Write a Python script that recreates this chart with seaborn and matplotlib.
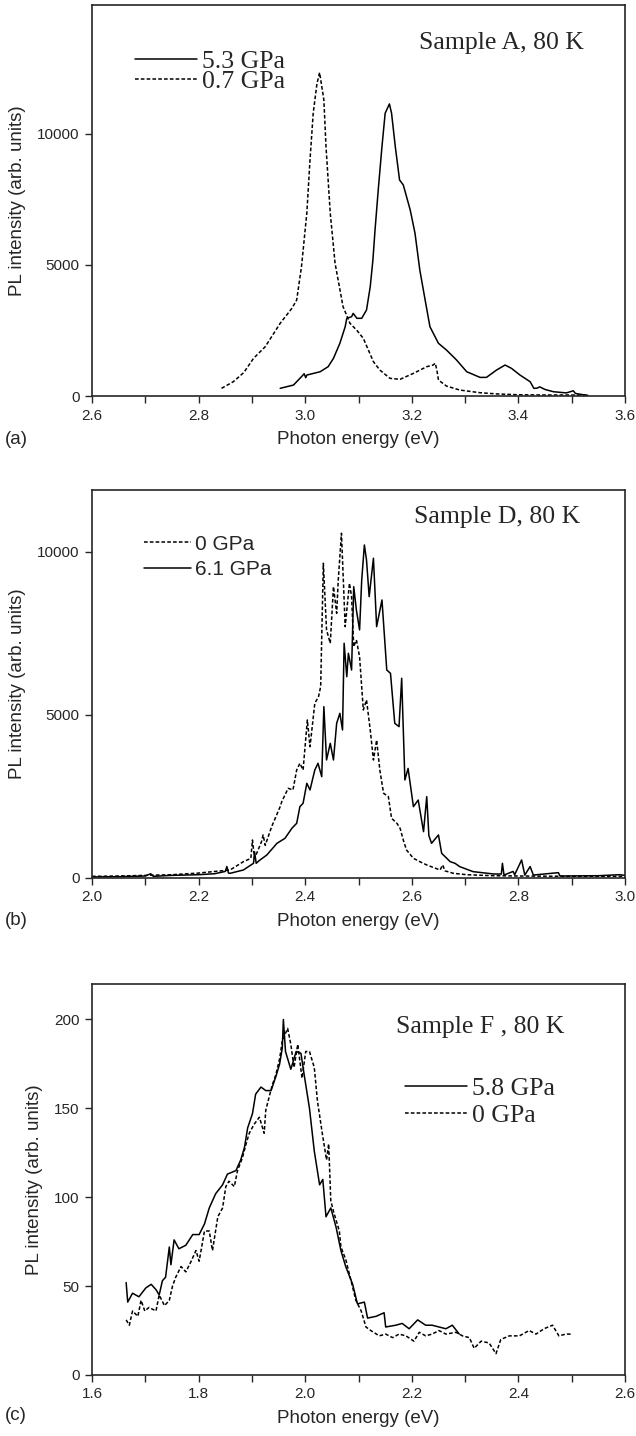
import numpy as np
import pandas as pd
import matplotlib
matplotlib.use("Agg")
import matplotlib.pyplot as plt
import matplotlib.ticker as mticker
import seaborn as sns

# ---- data ----
# (a) sample A
a_53_x = [2.953, 2.978, 2.993, 2.998, 3.001, 3.003, 3.028, 3.043, 3.053, 3.065, 3.075, 3.078, 3.087, 3.090,
          3.097, 3.106, 3.115, 3.122, 3.127, 3.131, 3.137, 3.144, 3.150, 3.158, 3.162, 3.169, 3.177, 3.184,
          3.197, 3.206, 3.215, 3.225, 3.234, 3.250, 3.265, 3.284, 3.303, 3.328, 3.340, 3.359, 3.375, 3.387,
          3.403, 3.422, 3.429, 3.435, 3.440, 3.450, 3.466, 3.490, 3.503, 3.507, 3.525, 3.530]
a_53_y = [294, 419, 737, 850, 700, 800, 927, 1118, 1437, 2009, 2642, 2962, 3023, 3150,
          2962, 2962, 3279, 4167, 5185, 6329, 7854, 9505, 10778, 11132, 10778, 9505, 8235, 8044,
          7091, 6203, 4804, 3660, 2642, 2009, 1754, 1372, 927, 711, 711, 991, 1182, 1055,
          800, 546, 294, 300, 350, 250, 164, 120, 200, 100, 38, 30]
a_07_x = [2.843, 2.865, 2.885, 2.903, 2.925, 2.953, 2.975, 2.984, 2.993, 3.003, 3.009, 3.015, 3.022, 3.027,
          3.035, 3.039, 3.047, 3.056, 3.071, 3.084, 3.097, 3.109, 3.128, 3.140, 3.159, 3.178, 3.203, 3.228,
          3.240, 3.244, 3.247, 3.250, 3.265, 3.290, 3.328, 3.360, 3.400, 3.450, 3.500, 3.530]
a_07_y = [294, 545, 900, 1437, 1880, 2772, 3343, 3660, 4930, 6965, 9000, 10778, 11900, 12326,
          11285, 9505, 6965, 5059, 3405, 2772, 2500, 2200, 1308, 991, 675, 637, 865, 1118,
          1182, 1250, 991, 610, 381, 229, 127, 80, 50, 40, 40, 30]

# (b) sample D
b_0_x = [2.000, 2.050, 2.100, 2.150, 2.200, 2.230, 2.259, 2.284, 2.298, 2.301, 2.305, 2.318, 2.321, 2.325,
         2.337, 2.353, 2.356, 2.368, 2.377, 2.384, 2.390, 2.396, 2.404, 2.409, 2.418, 2.425, 2.429, 2.434,
         2.440, 2.447, 2.453, 2.459, 2.462, 2.468, 2.475, 2.483, 2.487, 2.491, 2.496, 2.502, 2.509, 2.515,
         2.522, 2.528, 2.534, 2.540, 2.547, 2.556, 2.562, 2.572, 2.578, 2.584, 2.590, 2.603, 2.615, 2.628,
         2.653, 2.658, 2.662, 2.678, 2.703, 2.750, 2.800, 2.900, 3.000]
b_0_y = [50, 60, 80, 100, 150, 200, 245, 500, 600, 1165, 600, 1113, 1319, 1000,
         1573, 2187, 2340, 2750, 2700, 3312, 3517, 3312, 4846, 4027, 5358, 5563, 5870, 9653,
         7607, 7198, 8935, 8117, 9140, 10572, 7708, 9038, 8628, 7094, 7300, 6787, 5152, 5460,
         4539, 3619, 4232, 3312, 2597, 2494, 1831, 1677, 1524, 1165, 859, 603, 500, 399,
         245, 400, 220, 143, 100, 70, 60, 50, 50]
b_61_x = [2.000, 2.050, 2.100, 2.110, 2.115, 2.150, 2.200, 2.230, 2.250, 2.253, 2.256, 2.259, 2.284, 2.303,
          2.305, 2.308, 2.315, 2.328, 2.347, 2.362, 2.375, 2.384, 2.390, 2.396, 2.403, 2.409, 2.418, 2.424,
          2.431, 2.435, 2.440, 2.447, 2.453, 2.459, 2.465, 2.470, 2.473, 2.478, 2.481, 2.487, 2.491, 2.496,
          2.502, 2.506, 2.511, 2.515, 2.520, 2.528, 2.534, 2.544, 2.553, 2.560, 2.568, 2.576, 2.581, 2.587,
          2.593, 2.603, 2.612, 2.622, 2.628, 2.632, 2.637, 2.650, 2.656, 2.672, 2.681, 2.690, 2.715, 2.753,
          2.768, 2.770, 2.773, 2.790, 2.793, 2.806, 2.812, 2.822, 2.828, 2.875, 2.878, 2.950, 2.990, 3.000]
b_61_y = [30, 40, 60, 130, 50, 80, 100, 130, 200, 350, 150, 143, 245, 450,
          800, 450, 550, 705, 1063, 1216, 1524, 1677, 2187, 2290, 2904, 2700, 3312, 3517,
          3107, 5254, 3619, 4130, 3619, 4744, 5050, 4539, 7198, 6174, 6891, 6378, 8935, 8219,
          7607, 9140, 10213, 9754, 8628, 9806, 7708, 8526, 6379, 6276, 4744, 4642, 6124, 3005,
          3360, 2187, 2390, 1420, 2494, 1300, 1063, 1319, 757, 500, 450, 347, 194, 123,
          120, 450, 90, 200, 100, 552, 90, 350, 90, 163, 60, 70, 100, 80]

# (c) sample F
c_58_x = [1.664, 1.667, 1.676, 1.688, 1.701, 1.711, 1.720, 1.726, 1.732, 1.738, 1.745, 1.748, 1.754, 1.763,
          1.776, 1.789, 1.801, 1.811, 1.820, 1.832, 1.845, 1.854, 1.870, 1.879, 1.886, 1.892, 1.901, 1.907,
          1.917, 1.926, 1.936, 1.945, 1.952, 1.957, 1.959, 1.963, 1.973, 1.983, 1.992, 1.998, 2.008, 2.017,
          2.027, 2.033, 2.039, 2.048, 2.058, 2.067, 2.076, 2.089, 2.098, 2.111, 2.117, 2.133, 2.148, 2.151,
          2.170, 2.182, 2.195, 2.211, 2.226, 2.238, 2.251, 2.264, 2.276, 2.289]
c_58_y = [52, 41, 46, 44, 49, 51, 48, 45, 53, 55, 72, 62, 76, 71,
          73, 79, 79, 85, 94, 102, 107, 113, 115, 121, 128, 139, 147, 158,
          162, 160, 160, 168, 175, 184, 200, 182, 172, 182, 181, 169, 150, 126,
          107, 110, 89, 94, 83, 70, 61, 51, 40, 41, 32, 33, 35, 27,
          28, 29, 26, 31, 28, 28, 27, 26, 28, 23]
c_0_x = [1.664, 1.670, 1.676, 1.686, 1.692, 1.699, 1.707, 1.720, 1.726, 1.736, 1.745, 1.751, 1.757, 1.767,
         1.776, 1.786, 1.795, 1.801, 1.811, 1.820, 1.826, 1.836, 1.845, 1.851, 1.857, 1.867, 1.873, 1.882,
         1.889, 1.895, 1.904, 1.914, 1.923, 1.926, 1.932, 1.938, 1.945, 1.952, 1.957, 1.967, 1.973, 1.979,
         1.986, 1.994, 2.001, 2.008, 2.017, 2.023, 2.032, 2.040, 2.044, 2.048, 2.054, 2.064, 2.067, 2.076,
         2.086, 2.095, 2.105, 2.114, 2.123, 2.139, 2.151, 2.164, 2.176, 2.189, 2.204, 2.214, 2.226, 2.238,
         2.251, 2.264, 2.283, 2.295, 2.308, 2.317, 2.330, 2.345, 2.358, 2.367, 2.383, 2.402, 2.420, 2.433,
         2.448, 2.464, 2.476, 2.489, 2.498]
c_0_y = [31, 28, 36, 33, 42, 36, 38, 36, 45, 39, 42, 50, 55, 61,
         58, 64, 70, 64, 81, 81, 70, 89, 94, 106, 109, 106, 115, 122,
         130, 136, 141, 145, 136, 149, 156, 163, 169, 178, 188, 195, 186, 173,
         186, 167, 182, 182, 173, 154, 136, 121, 130, 98, 91, 81, 72, 65,
         53, 42, 36, 27, 25, 22, 23, 21, 23, 22, 19, 24, 22, 23,
         25, 23, 24, 22, 21, 15, 19, 18, 12, 20, 22, 22, 25, 23,
         26, 28, 22, 23, 23]

panels = [
    dict(tag="(a)", title="Sample A, 80 K", xlim=(2.6, 3.6), ylim=(0, 14900), yticks=[0, 5000, 10000],
         series=[("5.3 GPa", a_53_x, a_53_y, "-"), ("0.7 GPa", a_07_x, a_07_y, "--")],
         rect=[0.1447, 0.7242, 0.838, 0.2723], title_xy=(0.613, 0.903), leg_xy=(0.062, 0.91),
         leg_font="serif", leg_space=-0.12),
    dict(tag="(b)", title="Sample D, 80 K", xlim=(2.0, 3.0), ylim=(0, 11900), yticks=[0, 5000, 10000],
         series=[("0 GPa", b_0_x, b_0_y, "--"), ("6.1 GPa", b_61_x, b_61_y, "-")],
         rect=[0.1447, 0.3886, 0.838, 0.2702], title_xy=(0.605, 0.930), leg_xy=(0.0826, 0.906),
         leg_font="sans-serif", leg_space=0.3),
    dict(tag="(c)", title="Sample F , 80 K", xlim=(1.6, 2.6), ylim=(0, 220), yticks=[0, 50, 100, 150, 200],
         series=[("5.8 GPa", c_58_x, c_58_y, "-"), ("0 GPa", c_0_x, c_0_y, "--")],
         rect=[0.1447, 0.0425, 0.838, 0.2723], title_xy=(0.57, 0.89), leg_xy=(0.568, 0.788),
         leg_font="serif", leg_space=0.17),
]
tag_y = [0.6936, 0.3593, 0.0146]

sns.set_style("ticks")
plt.rcParams["font.family"] = ["Liberation Sans", "DejaVu Sans"]
plt.rcParams["xtick.direction"] = "out"
plt.rcParams["ytick.direction"] = "out"

fig = plt.figure(figsize=(6.36, 14.36), dpi=100)

for p, ty in zip(panels, tag_y):
    ax = fig.add_axes(p["rect"])
    dashed = [s[0] for s in p["series"] if s[3] == "--"]
    for label, xs, ys, ls in p["series"]:
        df = pd.DataFrame({"x": xs, "y": ys})
        sns.lineplot(data=df, x="x", y="y", ax=ax, color="black", lw=1.1,
                     sort=False, estimator=None, label=label)
    for ln in ax.get_lines():
        if ln.get_label() in dashed:
            ln.set_dashes((2.4, 1.4))
    ax.set_xlim(*p["xlim"])
    ax.set_ylim(*p["ylim"])
    ax.set_yticks(p["yticks"])
    ax.xaxis.set_major_locator(mticker.MultipleLocator(0.2))
    ax.xaxis.set_minor_locator(mticker.MultipleLocator(0.1))
    ax.xaxis.set_major_formatter(mticker.FormatStrFormatter("%.1f"))
    ax.tick_params(axis="both", which="major", length=5, width=1.0, labelsize=11, pad=4)
    ax.tick_params(axis="x", which="minor", length=5, width=1.0)
    for sp in ax.spines.values():
        sp.set_linewidth(1.2)
        sp.set_visible(True)
    ax.set_xlabel("Photon energy (eV)", fontsize=13.5, labelpad=6)
    ax.set_ylabel("PL intensity (arb. units)", fontsize=13.5, labelpad=8)
    ax.text(p["title_xy"][0], p["title_xy"][1], p["title"], transform=ax.transAxes,
            family="Liberation Serif", fontsize=18.5, va="center", ha="left")
    serif = p["leg_font"] == "serif"
    leg_fam = "Liberation Serif" if serif else "Liberation Sans"
    ax.legend(loc="upper left", bbox_to_anchor=p["leg_xy"], frameon=False,
              handlelength=2.4 if serif else 2.25,
              handletextpad=0.2, labelspacing=p["leg_space"], borderaxespad=0,
              prop={"family": leg_fam, "size": 18.5 if serif else 15})
    fig.text(0.008, ty, p["tag"], fontsize=13.5, va="center", ha="left")

fig.savefig("out.png", dpi=100)
